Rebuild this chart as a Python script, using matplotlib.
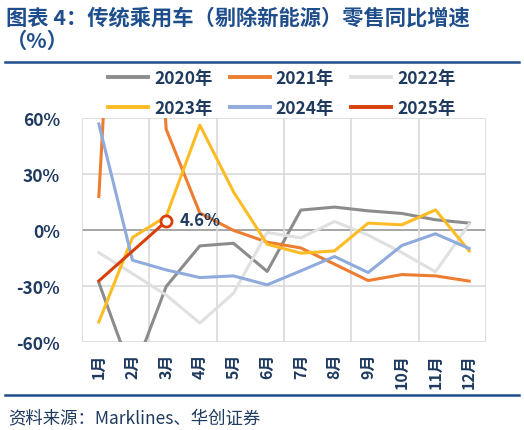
import numpy as np
import matplotlib.pyplot as plt
from matplotlib.lines import Line2D

plt.rcParams['font.family'] = ['Noto Sans CJK SC', 'DejaVu Sans']

# --- データ ---
months = ['1月', '2月', '3月', '4月', '5月', '6月', '7月', '8月', '9月', '10月', '11月', '12月']
y_ticks = [-60, -30, 0, 30, 60]
y_tick_labels = ['-60%', '-30%', '0%', '30%', '60%']

y2020 = [-28.3, -78.0, -30.4, -8.6, -7.2, -22.3, 10.6, 12.2, 10.2, 8.8, 5.4, 3.6]
y2021 = [17.9, 340.0, 54.0, 9.0, -0.3, -6.6, -9.7, -18.4, -27.2, -24.0, -24.7, -27.5]
y2022 = [-12.2, -23.5, -35.0, -50.0, -34.0, -1.4, -4.3, 4.5, -2.8, -12.2, -22.5, 3.1]
y2023 = [-49.4, -4.1, 7.2, 56.2, 20.4, -7.7, -12.5, -11.3, 3.6, 2.7, 10.7, -11.3]
y2024 = [56.8, -16.3, -21.5, -25.6, -24.7, -29.5, -22.0, -14.3, -22.9, -8.4, -2.1, -10.0]
y2025 = [-27.4, -11.4, 4.6]

series = [
    ('2020年', y2020, '#8c8c8c'),
    ('2021年', y2021, '#ed7d31'),
    ('2022年', y2022, '#e0e0e0'),
    ('2023年', y2023, '#fdbc24'),
    ('2024年', y2024, '#8faadc'),
    ('2025年', y2025, '#d8400a'),
]

NAVY = '#1f3a5f'
TITLE_BLUE = '#1f4e8c'

fig = plt.figure(figsize=(5.24, 4.31), dpi=100)
ax = fig.add_axes([0.1565, 0.2049, 0.771, 0.519])

x = np.arange(len(months))
for name, vals, col in series:
    ax.plot(x[:len(vals)], vals, color=col, lw=2.2, solid_joinstyle='round', zorder=3)

# 2025年3月のデータラベル
ax.plot(x[2], y2025[2], 'o', ms=8, mfc='white', mec='#d8400a', mew=2.0, zorder=4)
ax.annotate(f'{y2025[2]:.1f}%', (x[2], y2025[2]), xytext=(10, 1), textcoords='offset points',
            fontsize=12, fontweight='bold', color=NAVY, va='center', ha='left', zorder=5)

ax.set_xlim(-0.5, len(months) - 0.5)
ax.set_ylim(-60, 60)

# グリッド（縦は2か月ごと）
for v in y_ticks:
    ax.axhline(v, color='#a6a6a6' if v == 0 else '#d9d9d9', lw=1.4 if v == 0 else 1.2, zorder=1)
for gx in np.arange(-0.5, len(months), 2):
    ax.axvline(gx, color='#d9d9d9', lw=1.2, zorder=1)

for s in ax.spines.values():
    s.set_visible(False)

ax.set_yticks(y_ticks)
ax.set_yticklabels(y_tick_labels, fontsize=12.5, fontweight='bold', color=NAVY)
ax.set_xticks(x)
ax.set_xticklabels(months, rotation=90, fontsize=11.5, fontweight='bold', color=NAVY)
ax.tick_params(length=0)
ax.tick_params(axis='y', pad=16)
ax.tick_params(axis='x', pad=8)

# 凡例
handles = [Line2D([0], [0], color=c, lw=2.8) for _, _, c in series]
labels = [n for n, _, _ in series]
order = [0, 3, 1, 4, 2, 5]
fig.legend([handles[i] for i in order], [labels[i] for i in order], ncol=3,
           loc='center', bbox_to_anchor=(0.538, 0.782), frameon=False,
           prop={'size': 12.5, 'weight': 'bold'}, handlelength=2.3, handletextpad=0.35,
           columnspacing=1.0, labelspacing=0.7, labelcolor=NAVY)

# タイトル
fig.text(0.012, 0.958, '图表 4：传统乘用车（剔除新能源）零售同比增速', fontsize=15.3,
         fontweight='bold', color=TITLE_BLUE, va='center', ha='left')
fig.text(0.012, 0.905, '（%）', fontsize=15.3, fontweight='bold', color=TITLE_BLUE,
         va='center', ha='left')
fig.add_artist(Line2D([0.01, 0.99], [1 - 63 / 431, 1 - 63 / 431], color='#1f4e8c', lw=1.8))

# 出典
fig.add_artist(Line2D([0.01, 0.99], [1 - 396 / 431, 1 - 396 / 431], color='#1f4e8c', lw=1.8))
fig.text(0.015, 1 - 418 / 431, '资料来源：Marklines、华创证券', fontsize=12.5, style='italic',
         color=NAVY, va='center', ha='left')

fig.savefig('out.png', dpi=100)
